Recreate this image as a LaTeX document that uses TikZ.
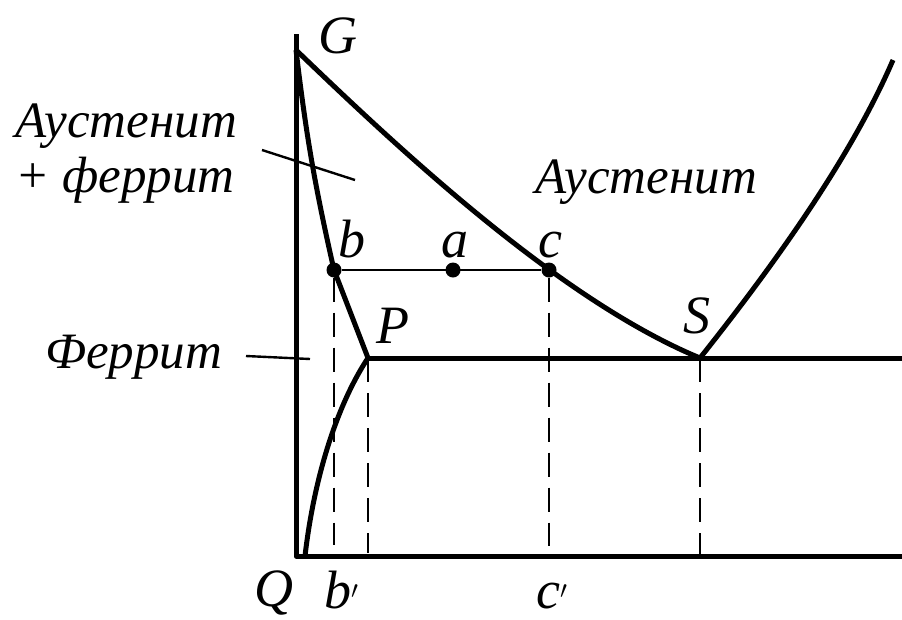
\documentclass[tikz,border=0pt]{standalone}
\usepackage{fontspec}
\setmainfont{Liberation Serif}
\usetikzlibrary{positioning}
\begin{document}
\begin{tikzpicture}[
  x=1pt,y=-1pt,
  curve/.style={line width=5pt,line join=round},
  fine/.style={line width=2.4pt},
  guide/.style={line width=2pt,dash pattern=on 24pt off 11pt},
  dot/.style={circle,fill,inner sep=0pt,minimum size=15pt},
  lbl/.style={font=\fontsize{54}{60}\selectfont\itshape,inner sep=0pt,anchor=base west},
  phase/.style={font=\fontsize{51}{60}\selectfont\itshape,inner sep=0pt,anchor=base west}
]
\useasboundingbox (0,0) rectangle (902,619);
% key points
\coordinate (top) at (296,34);
\coordinate (O) at (296,556);
\coordinate (end) at (902,556);
\coordinate (G) at (296,50);
\coordinate (P) at (368,358);
\coordinate (S) at (700,358);
\coordinate (Q) at (305,556);
\coordinate (right) at (902,358);
\coordinate (Etop) at (893,60);
\node[dot] (b) at (334,270) {};
\node[dot] (a) at (453,270) {};
\node[dot] (c) at (549,270) {};
\coordinate (bq) at (334,545);
\coordinate (Pq) at (368,553);
\coordinate (cq) at (549,546);
\coordinate (Sq) at (700,556);

% axes
\draw[curve] (top) -- (O) -- (end);
% phase lines
\draw[curve] (G) to[bend right=3] (b.center) -- (P);
\draw[curve] (G) .. controls (400,150) and (560,300) .. (S);
\draw[curve] (S) .. controls (770,270) and (850,160) .. (Etop);
\draw[curve] (P) .. controls (340,400) and (315,470) .. (Q);
\draw[curve] (P) -- (right);
\draw[fine] (b) -- (c);
% projections
\draw[guide] (b) -- (bq);
\draw[guide] (P) -- (Pq);
\draw[guide] (c) -- (cq);
\draw[guide] (S) -- (Sq);

% labels
\node[lbl] (lG) at (318,53) {G};
\node[lbl] (lb) at (338,257) {b};
\node[lbl] (la) at (441,257) {a};
\node[lbl] (lc) at (538,257) {c};
\node[lbl] (lP) at (376,343) {P};
\node[lbl] (lS) at (683,333) {S};
\node[lbl] (lQ) at (254,606) {Q};
\node[lbl] (lbp) at (324,608) {b$'$};
\node[lbl] (lcp) at (536,608) {c$'$};

% phase regions
\node[phase] (aust1) at (15,137) {Аустенит};
\node[phase] (aust2) at (15,192) {+ феррит};
\node[phase] (aust) at (535,193) {Аустенит};
\node[phase] (ferr) at (45,368) {Феррит};
\coordinate (ag1) at (262,150);
\coordinate (ag2) at (355,180);
\coordinate (fe1) at (246,356);
\coordinate (fe2) at (310,359);
\draw[fine] (ag1) -- (ag2);
\draw[fine] (fe1) -- (fe2);
\end{tikzpicture}
\end{document}
